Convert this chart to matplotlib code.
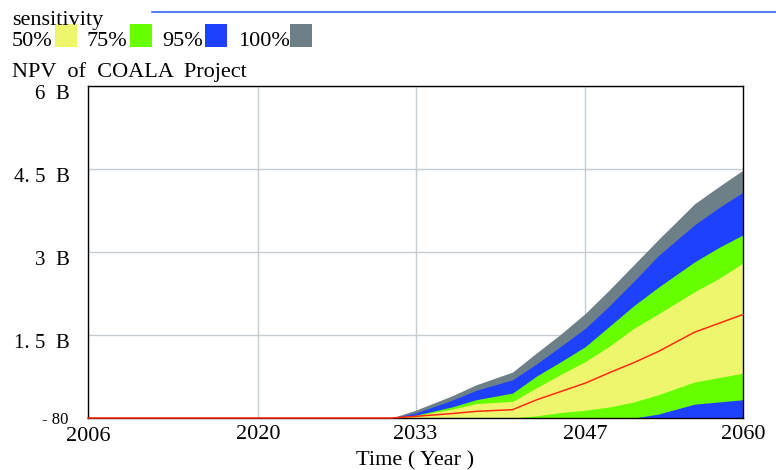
import matplotlib
matplotlib.use("Agg")
import matplotlib.pyplot as plt
from matplotlib.patches import Rectangle
from matplotlib.lines import Line2D
from matplotlib.transforms import ScaledTranslation

plt.rcParams['font.family'] = ['Liberation Serif', 'DejaVu Serif']

# sensitivity run output, NPV in billions
years = [2006, 2031, 2033, 2036, 2038, 2041, 2043, 2045, 2047, 2049, 2051, 2053, 2056, 2058, 2060]
npv_max = [0, 0, 0.14, 0.40, 0.60, 0.83, 1.18, 1.52, 1.89, 2.32, 2.77, 3.22, 3.87, 4.18, 4.48]
npv_p975 = [0, 0, 0.09, 0.32, 0.50, 0.69, 0.98, 1.30, 1.62, 2.03, 2.47, 2.93, 3.49, 3.80, 4.08]
npv_p875 = [0, 0, 0.05, 0.20, 0.33, 0.45, 0.76, 1.02, 1.29, 1.66, 2.03, 2.36, 2.82, 3.08, 3.31]
npv_p75 = [0, 0, 0.04, 0.16, 0.26, 0.30, 0.55, 0.79, 1.02, 1.30, 1.62, 1.88, 2.28, 2.52, 2.80]
npv_median = [0, 0, 0.03, 0.08, 0.12, 0.15, 0.33, 0.48, 0.63, 0.82, 1.00, 1.20, 1.55, 1.71, 1.87]
npv_p25 = [0, 0, 0, 0, 0, 0, 0.04, 0.10, 0.14, 0.20, 0.29, 0.42, 0.65, 0.73, 0.81]
npv_p125 = [0, 0, 0, 0, 0, 0, 0, 0, 0, 0, 0, 0.07, 0.25, 0.29, 0.33]
npv_p025 = [0] * len(years)
npv_min = [0] * len(years)

band_labels = ["50%", "75%", "95%", "100%"]
band_colors = ["#EEF66E", "#66FF00", "#1E40FF", "#6E8087"]

x_ticks = [2006, 2020, 2033, 2047, 2060]
y_ticks = [-80, 1.5e9, 3e9, 4.5e9, 6e9]
y_tick_labels = ["- 80", "1. 5  B", "3  B", "4. 5  B", "6  B"]

W, H = 776, 470
fig = plt.figure(figsize=(W / 100, H / 100), dpi=100)
ax = fig.add_axes([88 / W, 1 - 418 / H, (743 - 88) / W, (418 - 86) / H])

B = 1e9
def scaled(v):
    return [a * B for a in v]

# widest band first, narrower ones on top
bounds = [(npv_min, npv_max), (npv_p025, npv_p975), (npv_p125, npv_p875), (npv_p25, npv_p75)]
for (lo, hi), c in zip(bounds, band_colors[::-1]):
    ax.fill_between(years, scaled(lo), scaled(hi), color=c, linewidth=0, zorder=2)

ax.plot(years, scaled(npv_median), color="#FF2A10", linewidth=1.1, zorder=5, clip_on=False)

ax.set_xlim(2006, 2060)
ax.set_ylim(-80, 6e9)
ax.set_xticks(x_ticks)
ax.set_xticklabels([str(y) for y in x_ticks])
ax.set_yticks(y_ticks)
ax.set_yticklabels(y_tick_labels)
ax.tick_params(length=0, labelsize=16, pad=5)
ax.tick_params(axis='y', labelsize=15, pad=13)
ax.grid(True, color="#C4CCD2", linewidth=1.0, zorder=1)
ax.set_axisbelow(True)
for s in ax.spines.values():
    s.set_color("black")
    s.set_linewidth(1.0)
    s.set_zorder(4)

# value labels sit a bit below their gridlines
for i, lab in enumerate(ax.get_yticklabels()):
    if i:
        lab.set_transform(lab.get_transform() + ScaledTranslation(0, -6 / 100, fig.dpi_scale_trans))
low = ax.get_yticklabels()[0]
low.set_fontsize(12)
low.set_transform(low.get_transform() + ScaledTranslation(-2 / 100, 0, fig.dpi_scale_trans))
xl = ax.get_xticklabels()[0]
xl.set_transform(xl.get_transform() + ScaledTranslation(0, -2 / 100, fig.dpi_scale_trans))

ax.set_xlabel("Time ( Year )", fontsize=16, labelpad=4)

# header: variable name, legend swatches
fig.text(12 / W, 1 - 25 / H, "sensitivity", fontsize=16, va="baseline")
fig.add_artist(Line2D([152 / W, 1.0], [1 - 12 / H, 1 - 12 / H], color="#3A66F0", linewidth=1.2))
label_x = [12, 87, 162, 238]
swatch_x = [55, 130, 205, 290]
for lbl, c, lx, sx in zip(band_labels, band_colors, label_x, swatch_x):
    fig.text(lx / W, 1 - 46 / H, lbl, fontsize=16, va="baseline")
    fig.add_artist(Rectangle((sx / W, 1 - 47 / H), 22 / W, 23 / H, transform=fig.transFigure,
                             facecolor=c, edgecolor="none"))
fig.text(12 / W, 1 - 77 / H, "NPV  of  COALA  Project", fontsize=16, va="baseline")

fig.savefig("out.png", dpi=100)
